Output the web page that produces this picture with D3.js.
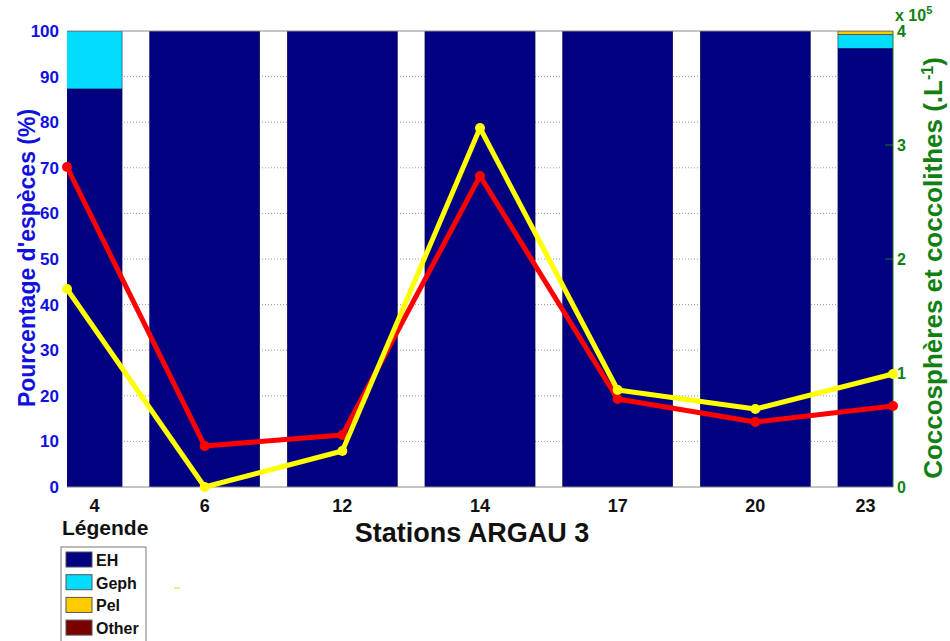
<!DOCTYPE html>
<html><head><meta charset="utf-8">
<script src="https://cdn.jsdelivr.net/npm/d3@7"></script>
<style>body{margin:0;background:#fff}svg{display:block;font-family:"Liberation Sans",Arial,sans-serif}</style>
</head><body><svg id="c" width="950" height="641"></svg>
<script>
const stations = ["4","6","12","14","17","20","23"];
const EH   = [87.3,100,100,100,100,100,96.2];
const Geph = [12.7,0,0,0,0,0,3.0];
const Pel  = [0,0,0,0,0,0,0.8];
const Other= [0,0,0,0,0,0,0];
const coccospheres = [280700,36000,45600,272800,77200,57000,71000];
const coccolithes  = [173700,0,31600,314900,85100,68400,99100];
const leftTicks = [0,10,20,30,40,50,60,70,80,90,100];
const rightTicks = [0,1,2,3,4];
const legendNames = ["EH","Geph","Pel","Other"];
const colors = ["#000080","#00DDFF","#FFCC00","#7A0000"];

const svg = d3.select("#c");
const L=67,R=893,T=31,B=487;
const x = d3.scaleLinear().domain([1,7]).range([L,R]);
const y = d3.scaleLinear().domain([0,100]).range([B,T]);
const y2 = d3.scaleLinear().domain([0,400000]).range([B,T]);
const bw = 0.8;

svg.append("defs").append("clipPath").attr("id","pc").append("rect")
  .attr("x",L).attr("y",T).attr("width",R-L).attr("height",B-T);

// gridlines
svg.append("g").selectAll("line").data(leftTicks.filter(d=>d>0&&d<100)).join("line")
  .attr("x1",L).attr("x2",R).attr("y1",d=>y(d)).attr("y2",d=>y(d))
  .attr("stroke","#999").attr("stroke-dasharray","1,2").attr("stroke-width",1);

// stacked bars
const stackData = stations.map((s,i)=>({i, EH:EH[i],Geph:Geph[i],Pel:Pel[i],Other:Other[i]}));
const stacked = d3.stack().keys(legendNames)(stackData);
const gb = svg.append("g").attr("clip-path","url(#pc)");
stacked.forEach((layer,k)=>{
  gb.selectAll(null).data(layer.filter(d=>d[1]-d[0]>0)).join("rect")
    .attr("x",d=>x(d.data.i+1-bw/2)).attr("width",x(1+bw)-x(1))
    .attr("y",d=>y(d[1])).attr("height",d=>y(d[0])-y(d[1]))
    .attr("fill",colors[k]).attr("stroke","#000040").attr("stroke-width",0.5);
});

// box lines
svg.append("line").attr("x1",L).attr("x2",R).attr("y1",T).attr("y2",T).attr("stroke","#888");
svg.append("line").attr("x1",L).attr("x2",R).attr("y1",B).attr("y2",B).attr("stroke","#888");
svg.append("line").attr("x1",R).attr("x2",R).attr("y1",T).attr("y2",B).attr("stroke","#1a7a1a");

// left axis labels
const ax = svg.append("g").attr("font-weight","bold").attr("font-size",17);
ax.selectAll("text.l").data(leftTicks).join("text").attr("class","l")
  .attr("x",L-8).attr("y",d=>y(d)+6).attr("text-anchor","end").attr("fill","#1010E0").text(d=>d);

// right axis
ax.selectAll("line.r").data(rightTicks.filter(d=>d>0&&d<4)).join("line").attr("class","r")
  .attr("x1",R-8).attr("x2",R).attr("y1",d=>y2(d*1e5)).attr("y2",d=>y2(d*1e5)).attr("stroke","#1a7a1a");
ax.selectAll("text.r").data(rightTicks).join("text").attr("class","r")
  .attr("x",R+4).attr("y",d=>y2(d*1e5)+6).attr("fill","#108010").attr("font-size",16).text(d=>d);
const exp = svg.append("text").attr("x",R+2).attr("y",21).attr("fill","#108010")
  .attr("font-weight","bold").attr("font-size",16);
exp.append("tspan").text("x 10");
exp.append("tspan").attr("dy",-7).attr("font-size",11).text("5");

// bottom labels at center of visible bar
ax.selectAll("text.b").data(stations).join("text").attr("class","b")
  .attr("x",(d,i)=>{const a=Math.max(L,x(i+1-bw/2)),b=Math.min(R,x(i+1+bw/2));return (a+b)/2;})
  .attr("y",512).attr("text-anchor","middle").attr("fill","#111").attr("font-size",18).text(d=>d);

svg.append("text").attr("x",472).attr("y",542).attr("text-anchor","middle")
  .attr("font-weight","bold").attr("font-size",27).attr("fill","#111").text("Stations ARGAU 3");

svg.append("text").attr("transform","translate(35,258) rotate(-90)").attr("text-anchor","middle")
  .attr("font-weight","bold").attr("font-size",23).attr("fill","#1010E0").text("Pourcentage d'espèces (%)");

const rl = svg.append("text").attr("transform","translate(942,268) rotate(-90)").attr("text-anchor","middle")
  .attr("font-weight","bold").attr("font-size",26).attr("fill","#108010");
rl.append("tspan").text("Coccosphères et coccolithes (.L");
rl.append("tspan").attr("dy",-9).attr("font-size",16).text("-1");
rl.append("tspan").attr("dy",9).text(")");

// lines
const lineGen = d3.line().x((d,i)=>x(i+1)).y(d=>y2(d));
[[coccospheres,"#FF0000"],[coccolithes,"#FFFF00"]].forEach(([vals,col])=>{
  svg.append("path").datum(vals).attr("d",lineGen).attr("fill","none")
    .attr("stroke",col).attr("stroke-width",5).attr("stroke-linejoin","round");
  svg.append("g").selectAll("circle").data(vals).join("circle")
    .attr("cx",(d,i)=>x(i+1)).attr("cy",d=>y2(d)).attr("r",5).attr("fill",col);
});

// legend
svg.append("text").attr("x",62).attr("y",535).attr("font-weight","bold").attr("font-size",21)
  .attr("fill","#111").text("Légende");
const lg = svg.append("g");
lg.append("rect").attr("x",61).attr("y",547).attr("width",85).attr("height",100)
  .attr("fill","#fff").attr("stroke","#777");
legendNames.forEach((n,i)=>{
  const yy = 552 + i*22.7;
  lg.append("rect").attr("x",66).attr("y",yy).attr("width",26).attr("height",15)
    .attr("fill",colors[i]).attr("stroke","#555");
  lg.append("text").attr("x",96).attr("y",yy+14).attr("font-weight","bold").attr("font-size",16)
    .attr("fill","#111").text(n);
});
svg.append("line").attr("x1",174).attr("x2",180).attr("y1",588).attr("y2",588).attr("stroke","#EEDD66").attr("stroke-width",1.5);
</script></body></html>
